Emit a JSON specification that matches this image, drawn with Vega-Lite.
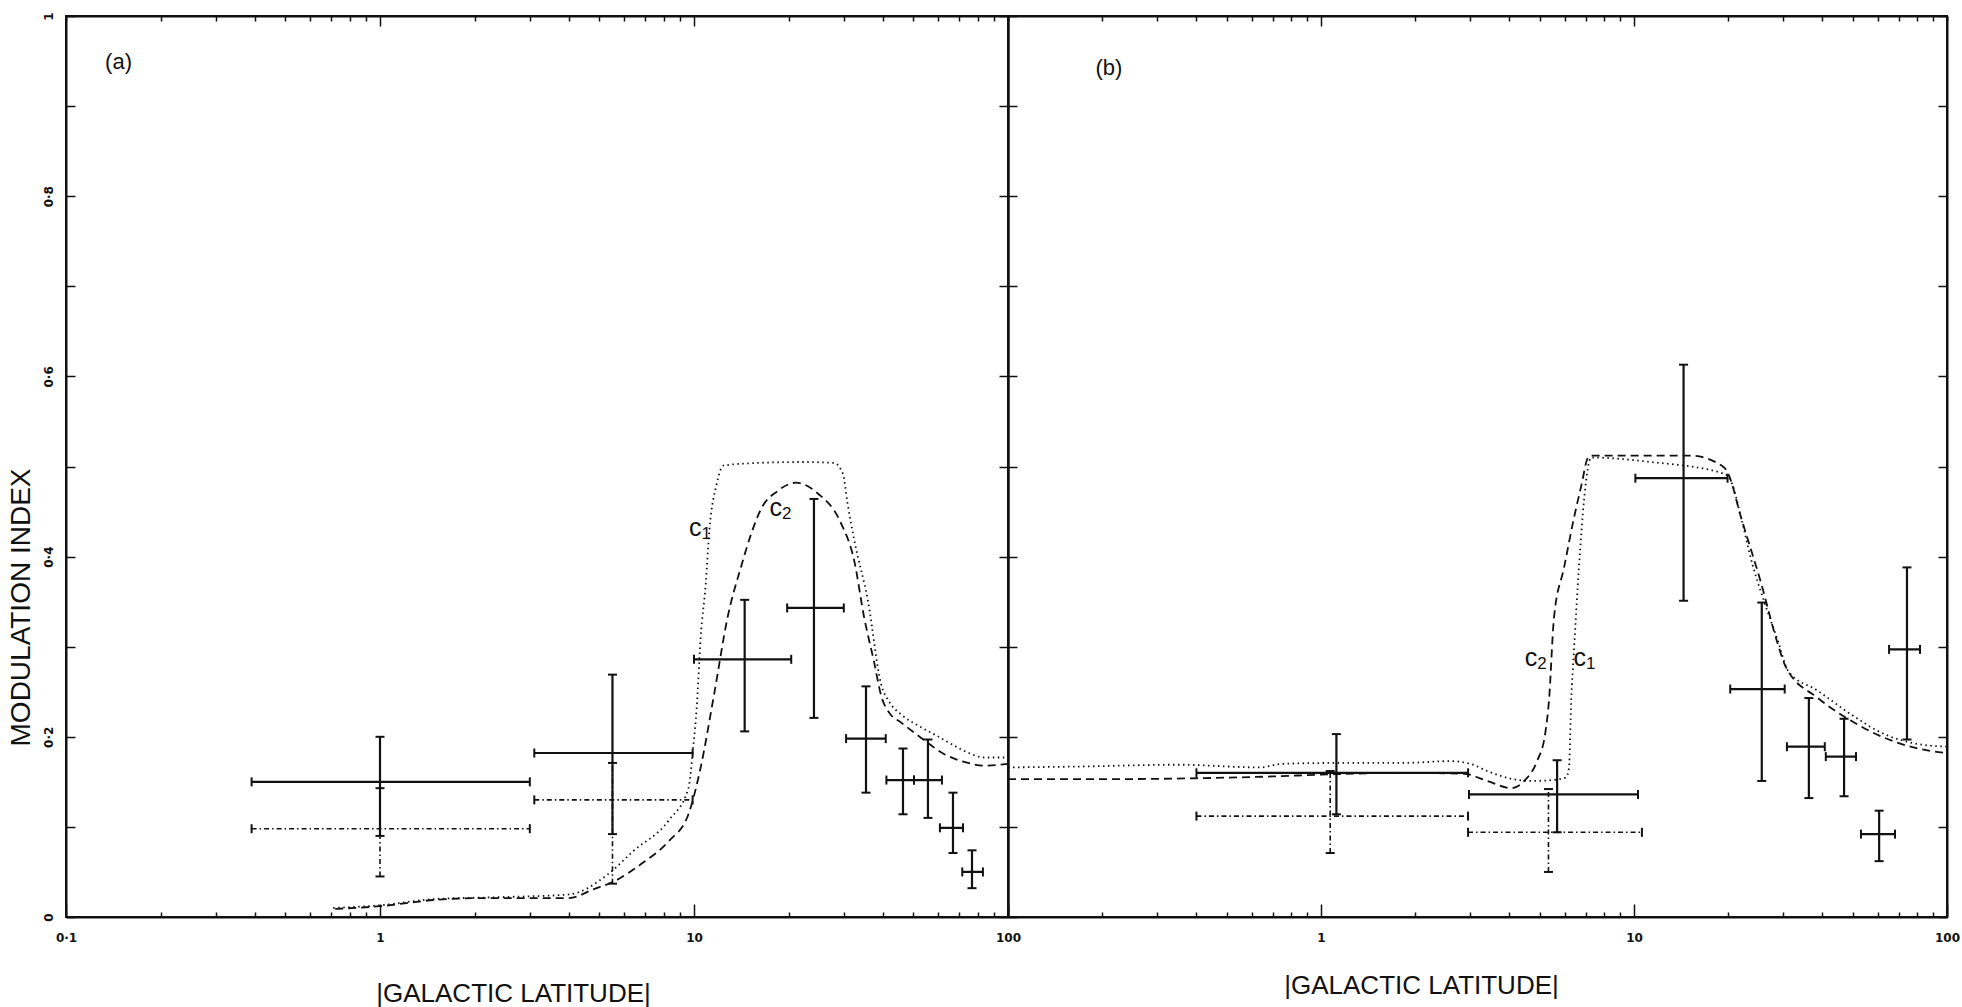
{
  "$schema": "https://vega.github.io/schema/vega-lite/v6.json",
  "background": "white",
  "padding": {"left": 6, "top": 10, "right": 0, "bottom": 0},
  "bounds": "flush",
  "spacing": 0,
  "config": {
    "view": {"stroke": "#111", "strokeWidth": 2},
    "axis": {
      "grid": false,
      "domainColor": "#111",
      "domainWidth": 2,
      "tickColor": "#111",
      "tickWidth": 1.5,
      "labelColor": "#111",
      "labelFont": "DejaVu Sans",
      "labelFontWeight": "bold",
      "labelFontSize": 12,
      "labelFlush": false,
      "labelOverlap": false,
      "titleColor": "#111",
      "titleFontWeight": "normal"
    }
  },
  "datasets": {
    "curves": [
      {"panel": "a", "curve": "C1", "lat": 0.71, "m": 0.010},
      {"panel": "a", "curve": "C1", "lat": 1.0, "m": 0.013},
      {"panel": "a", "curve": "C1", "lat": 1.5, "m": 0.020},
      {"panel": "a", "curve": "C1", "lat": 2.4, "m": 0.022},
      {"panel": "a", "curve": "C1", "lat": 4.0, "m": 0.025},
      {"panel": "a", "curve": "C1", "lat": 5.3, "m": 0.047},
      {"panel": "a", "curve": "C1", "lat": 6.4, "m": 0.073},
      {"panel": "a", "curve": "C1", "lat": 8.3, "m": 0.107},
      {"panel": "a", "curve": "C1", "lat": 9.6, "m": 0.143},
      {"panel": "a", "curve": "C1", "lat": 9.95, "m": 0.19},
      {"panel": "a", "curve": "C1", "lat": 10.2, "m": 0.232},
      {"panel": "a", "curve": "C1", "lat": 10.5, "m": 0.31},
      {"panel": "a", "curve": "C1", "lat": 10.9, "m": 0.37},
      {"panel": "a", "curve": "C1", "lat": 11.2, "m": 0.43},
      {"panel": "a", "curve": "C1", "lat": 11.8, "m": 0.48},
      {"panel": "a", "curve": "C1", "lat": 12.4, "m": 0.501},
      {"panel": "a", "curve": "C1", "lat": 16, "m": 0.504},
      {"panel": "a", "curve": "C1", "lat": 22, "m": 0.505},
      {"panel": "a", "curve": "C1", "lat": 27.9, "m": 0.504},
      {"panel": "a", "curve": "C1", "lat": 29.8, "m": 0.492},
      {"panel": "a", "curve": "C1", "lat": 30.8, "m": 0.46},
      {"panel": "a", "curve": "C1", "lat": 32.4, "m": 0.418},
      {"panel": "a", "curve": "C1", "lat": 35.8, "m": 0.351},
      {"panel": "a", "curve": "C1", "lat": 39.4, "m": 0.259},
      {"panel": "a", "curve": "C1", "lat": 42, "m": 0.238},
      {"panel": "a", "curve": "C1", "lat": 45.6, "m": 0.225},
      {"panel": "a", "curve": "C1", "lat": 52, "m": 0.212},
      {"panel": "a", "curve": "C1", "lat": 58, "m": 0.203},
      {"panel": "a", "curve": "C1", "lat": 66, "m": 0.192},
      {"panel": "a", "curve": "C1", "lat": 75, "m": 0.182},
      {"panel": "a", "curve": "C1", "lat": 84, "m": 0.177},
      {"panel": "a", "curve": "C1", "lat": 100, "m": 0.177},

      {"panel": "a", "curve": "C2", "lat": 0.72, "m": 0.009},
      {"panel": "a", "curve": "C2", "lat": 1.0, "m": 0.012},
      {"panel": "a", "curve": "C2", "lat": 1.5, "m": 0.019},
      {"panel": "a", "curve": "C2", "lat": 2.1, "m": 0.021},
      {"panel": "a", "curve": "C2", "lat": 4.0, "m": 0.021},
      {"panel": "a", "curve": "C2", "lat": 4.8, "m": 0.031},
      {"panel": "a", "curve": "C2", "lat": 5.6, "m": 0.040},
      {"panel": "a", "curve": "C2", "lat": 6.8, "m": 0.059},
      {"panel": "a", "curve": "C2", "lat": 8.3, "m": 0.084},
      {"panel": "a", "curve": "C2", "lat": 9.6, "m": 0.114},
      {"panel": "a", "curve": "C2", "lat": 10.5, "m": 0.166},
      {"panel": "a", "curve": "C2", "lat": 11.6, "m": 0.248},
      {"panel": "a", "curve": "C2", "lat": 12.8, "m": 0.333},
      {"panel": "a", "curve": "C2", "lat": 14.1, "m": 0.388},
      {"panel": "a", "curve": "C2", "lat": 15.2, "m": 0.425},
      {"panel": "a", "curve": "C2", "lat": 16.3, "m": 0.452},
      {"panel": "a", "curve": "C2", "lat": 18.5, "m": 0.473},
      {"panel": "a", "curve": "C2", "lat": 21.1, "m": 0.482},
      {"panel": "a", "curve": "C2", "lat": 24.8, "m": 0.470},
      {"panel": "a", "curve": "C2", "lat": 29.4, "m": 0.437},
      {"panel": "a", "curve": "C2", "lat": 32.4, "m": 0.395},
      {"panel": "a", "curve": "C2", "lat": 34.8, "m": 0.333},
      {"panel": "a", "curve": "C2", "lat": 37.4, "m": 0.284},
      {"panel": "a", "curve": "C2", "lat": 39.5, "m": 0.245},
      {"panel": "a", "curve": "C2", "lat": 42, "m": 0.226},
      {"panel": "a", "curve": "C2", "lat": 45.6, "m": 0.216},
      {"panel": "a", "curve": "C2", "lat": 52.8, "m": 0.199},
      {"panel": "a", "curve": "C2", "lat": 62.5, "m": 0.181},
      {"panel": "a", "curve": "C2", "lat": 74.6, "m": 0.171},
      {"panel": "a", "curve": "C2", "lat": 84, "m": 0.168},
      {"panel": "a", "curve": "C2", "lat": 100, "m": 0.170},

      {"panel": "b", "curve": "C1", "lat": 0.1, "m": 0.166},
      {"panel": "b", "curve": "C1", "lat": 0.17, "m": 0.167},
      {"panel": "b", "curve": "C1", "lat": 0.35, "m": 0.169},
      {"panel": "b", "curve": "C1", "lat": 0.64, "m": 0.166},
      {"panel": "b", "curve": "C1", "lat": 0.75, "m": 0.170},
      {"panel": "b", "curve": "C1", "lat": 1.13, "m": 0.171},
      {"panel": "b", "curve": "C1", "lat": 1.83, "m": 0.171},
      {"panel": "b", "curve": "C1", "lat": 2.6, "m": 0.173},
      {"panel": "b", "curve": "C1", "lat": 3.0, "m": 0.170},
      {"panel": "b", "curve": "C1", "lat": 3.4, "m": 0.162},
      {"panel": "b", "curve": "C1", "lat": 4.1, "m": 0.153},
      {"panel": "b", "curve": "C1", "lat": 4.7, "m": 0.151},
      {"panel": "b", "curve": "C1", "lat": 5.5, "m": 0.152},
      {"panel": "b", "curve": "C1", "lat": 6.07, "m": 0.155},
      {"panel": "b", "curve": "C1", "lat": 6.2, "m": 0.166},
      {"panel": "b", "curve": "C1", "lat": 6.3, "m": 0.24},
      {"panel": "b", "curve": "C1", "lat": 6.43, "m": 0.296},
      {"panel": "b", "curve": "C1", "lat": 6.67, "m": 0.388},
      {"panel": "b", "curve": "C1", "lat": 6.92, "m": 0.462},
      {"panel": "b", "curve": "C1", "lat": 7.3, "m": 0.510},
      {"panel": "b", "curve": "C1", "lat": 11.3, "m": 0.505},
      {"panel": "b", "curve": "C1", "lat": 19.4, "m": 0.492},
      {"panel": "b", "curve": "C1", "lat": 20.4, "m": 0.484},
      {"panel": "b", "curve": "C1", "lat": 22, "m": 0.443},
      {"panel": "b", "curve": "C1", "lat": 23.7, "m": 0.396},
      {"panel": "b", "curve": "C1", "lat": 26, "m": 0.351},
      {"panel": "b", "curve": "C1", "lat": 28.8, "m": 0.307},
      {"panel": "b", "curve": "C1", "lat": 31.1, "m": 0.273},
      {"panel": "b", "curve": "C1", "lat": 38.7, "m": 0.251},
      {"panel": "b", "curve": "C1", "lat": 49.3, "m": 0.225},
      {"panel": "b", "curve": "C1", "lat": 63, "m": 0.203},
      {"panel": "b", "curve": "C1", "lat": 80.8, "m": 0.192},
      {"panel": "b", "curve": "C1", "lat": 100, "m": 0.189},

      {"panel": "b", "curve": "C2", "lat": 0.1, "m": 0.153},
      {"panel": "b", "curve": "C2", "lat": 0.2, "m": 0.153},
      {"panel": "b", "curve": "C2", "lat": 0.4, "m": 0.154},
      {"panel": "b", "curve": "C2", "lat": 0.7, "m": 0.156},
      {"panel": "b", "curve": "C2", "lat": 1.0, "m": 0.158},
      {"panel": "b", "curve": "C2", "lat": 1.8, "m": 0.160},
      {"panel": "b", "curve": "C2", "lat": 2.86, "m": 0.159},
      {"panel": "b", "curve": "C2", "lat": 3.4, "m": 0.151},
      {"panel": "b", "curve": "C2", "lat": 4.05, "m": 0.143},
      {"panel": "b", "curve": "C2", "lat": 4.46, "m": 0.151},
      {"panel": "b", "curve": "C2", "lat": 4.9, "m": 0.173},
      {"panel": "b", "curve": "C2", "lat": 5.2, "m": 0.203},
      {"panel": "b", "curve": "C2", "lat": 5.35, "m": 0.24},
      {"panel": "b", "curve": "C2", "lat": 5.55, "m": 0.332},
      {"panel": "b", "curve": "C2", "lat": 5.98, "m": 0.388},
      {"panel": "b", "curve": "C2", "lat": 6.43, "m": 0.443},
      {"panel": "b", "curve": "C2", "lat": 6.8, "m": 0.48},
      {"panel": "b", "curve": "C2", "lat": 7.13, "m": 0.510},
      {"panel": "b", "curve": "C2", "lat": 7.3, "m": 0.512},
      {"panel": "b", "curve": "C2", "lat": 15.2, "m": 0.512},
      {"panel": "b", "curve": "C2", "lat": 19.4, "m": 0.499},
      {"panel": "b", "curve": "C2", "lat": 20.0, "m": 0.492},
      {"panel": "b", "curve": "C2", "lat": 22, "m": 0.443},
      {"panel": "b", "curve": "C2", "lat": 25.5, "m": 0.37},
      {"panel": "b", "curve": "C2", "lat": 28.8, "m": 0.303},
      {"panel": "b", "curve": "C2", "lat": 30.6, "m": 0.277},
      {"panel": "b", "curve": "C2", "lat": 38.7, "m": 0.243},
      {"panel": "b", "curve": "C2", "lat": 49.3, "m": 0.218},
      {"panel": "b", "curve": "C2", "lat": 63, "m": 0.199},
      {"panel": "b", "curve": "C2", "lat": 80.8, "m": 0.187},
      {"panel": "b", "curve": "C2", "lat": 100, "m": 0.182}
    ],
    "bins": [
      {"panel": "a", "series": "solid", "lat": 1.0, "xlo": 0.39, "xhi": 3.0, "m": 0.150, "ylo": 0.090, "yhi": 0.200},
      {"panel": "a", "series": "solid", "lat": 5.5, "xlo": 3.1, "xhi": 9.9, "m": 0.182, "ylo": 0.092, "yhi": 0.269},
      {"panel": "a", "series": "solid", "lat": 14.5, "xlo": 10.0, "xhi": 20.4, "m": 0.286, "ylo": 0.206, "yhi": 0.352},
      {"panel": "a", "series": "solid", "lat": 24.1, "xlo": 19.8, "xhi": 30.0, "m": 0.343, "ylo": 0.221, "yhi": 0.464},
      {"panel": "a", "series": "solid", "lat": 35.3, "xlo": 30.5, "xhi": 40.8, "m": 0.198, "ylo": 0.138, "yhi": 0.256},
      {"panel": "a", "series": "solid", "lat": 46.3, "xlo": 41.0, "xhi": 50.2, "m": 0.152, "ylo": 0.114, "yhi": 0.187},
      {"panel": "a", "series": "solid", "lat": 55.6, "xlo": 50.2, "xhi": 61.6, "m": 0.152, "ylo": 0.110, "yhi": 0.197},
      {"panel": "a", "series": "solid", "lat": 66.8, "xlo": 60.7, "xhi": 71.9, "m": 0.099, "ylo": 0.071, "yhi": 0.138},
      {"panel": "a", "series": "solid", "lat": 76.8, "xlo": 71.5, "xhi": 83.2, "m": 0.050, "ylo": 0.032, "yhi": 0.074},
      {"panel": "a", "series": "dotted", "lat": 1.0, "xlo": 0.39, "xhi": 3.0, "m": 0.098, "ylo": 0.045, "yhi": 0.143},
      {"panel": "a", "series": "dotted", "lat": 5.5, "xlo": 3.1, "xhi": 9.9, "m": 0.130, "ylo": 0.037, "yhi": 0.171},
      {"panel": "b", "series": "solid", "lat": 1.12, "xlo": 0.40, "xhi": 2.95, "m": 0.160, "ylo": 0.114, "yhi": 0.203},
      {"panel": "b", "series": "solid", "lat": 5.68, "xlo": 2.97, "xhi": 10.3, "m": 0.136, "ylo": 0.094, "yhi": 0.174},
      {"panel": "b", "series": "solid", "lat": 14.4, "xlo": 10.1, "xhi": 19.9, "m": 0.487, "ylo": 0.351, "yhi": 0.613},
      {"panel": "b", "series": "solid", "lat": 25.6, "xlo": 20.3, "xhi": 30.3, "m": 0.253, "ylo": 0.151, "yhi": 0.349},
      {"panel": "b", "series": "solid", "lat": 36.2, "xlo": 30.8, "xhi": 40.7, "m": 0.189, "ylo": 0.132, "yhi": 0.243},
      {"panel": "b", "series": "solid", "lat": 46.9, "xlo": 41.0, "xhi": 51.2, "m": 0.178, "ylo": 0.134, "yhi": 0.220},
      {"panel": "b", "series": "solid", "lat": 60.7, "xlo": 53.1, "xhi": 68.2, "m": 0.092, "ylo": 0.062, "yhi": 0.118},
      {"panel": "b", "series": "solid", "lat": 74.5, "xlo": 65.3, "xhi": 82.0, "m": 0.297, "ylo": 0.197, "yhi": 0.388},
      {"panel": "b", "series": "dotted", "lat": 1.07, "xlo": 0.40, "xhi": 2.95, "m": 0.112, "ylo": 0.071, "yhi": 0.162},
      {"panel": "b", "series": "dotted", "lat": 5.33, "xlo": 2.95, "xhi": 10.6, "m": 0.094, "ylo": 0.050, "yhi": 0.142}
    ],
    "curveNames": [
      {"panel": "a", "lat": 10.1, "m": 0.432, "main": "c", "sub": "1"},
      {"panel": "a", "lat": 18.2, "m": 0.454, "main": "c", "sub": "2"},
      {"panel": "b", "lat": 4.69, "m": 0.287, "main": "c", "sub": "2"},
      {"panel": "b", "lat": 6.71, "m": 0.287, "main": "c", "sub": "1"}
    ],
    "panelTags": [
      {"panel": "a", "lat": 0.147, "m": 0.949, "tag": "(a)"},
      {"panel": "b", "lat": 0.21, "m": 0.942, "tag": "(b)"}
    ]
  },
  "hconcat": [
    {
      "width": 942,
      "height": 901,
      "layer": [
        {
          "data": {"name": "curves"},
          "transform": [{"filter": "datum.panel == 'a'"}],
          "mark": {"type": "line", "color": "#111", "strokeWidth": 1.8, "interpolate": "monotone"},
          "encoding": {
            "x": {
              "field": "lat", "type": "quantitative",
              "scale": {"type": "log", "domain": [0.1, 100]},
              "axis": {
                "orient": "bottom",
                "values": [0.1, 0.2, 0.3, 0.4, 0.5, 0.6, 0.7, 0.8, 0.9, 1, 2, 3, 4, 5, 6, 7, 8, 9, 10, 20, 30, 40, 50, 60, 70, 80, 90, 100],
                "labelExpr": "datum.value == 0.1 ? '0·1' : (datum.value == 1 || datum.value == 10 || datum.value == 100) ? format(datum.value, 'd') : ''",
                "tickSize": {"condition": {"test": "datum.value == 0.1 || datum.value == 1 || datum.value == 10 || datum.value == 100", "value": -13}, "value": -5},
                "labelPadding": 28,
                "title": "|GALACTIC LATITUDE|",
                "titleFont": "Liberation Sans",
                "titleFontSize": 26,
                "titleAlign": "center",
                "titleBaseline": "middle",
                "titleX": 447,
                "titleY": 76
              }
            },
            "y": {
              "field": "m", "type": "quantitative",
              "scale": {"domain": [0, 1]},
              "axis": {
                "orient": "left",
                "values": [0, 0.1, 0.2, 0.3, 0.4, 0.5, 0.6, 0.7, 0.8, 0.9, 1],
                "labelExpr": "datum.value == 0 ? '0' : datum.value == 1 ? '1' : (round(datum.value * 10) % 2 == 0 ? '0·' + round(datum.value * 10) : '')",
                "labelAngle": 270,
                "labelAlign": "center",
                "labelBaseline": "bottom",
                "tickSize": -9,
                "labelPadding": 20,
                "title": "MODULATION INDEX",
                "titleFont": "Liberation Sans",
                "titleFontSize": 28,
                "titleAngle": 270,
                "titleAlign": "center",
                "titleBaseline": "middle",
                "titleX": -45,
                "titleY": 591
              }
            },
            "strokeDash": {
              "field": "curve", "type": "nominal",
              "scale": {"domain": ["C1", "C2", "solid", "dotted"], "range": [[1.5, 3.5], [8, 5], [1, 0], [5, 3, 1.5, 3]]},
              "legend": null
            }
          }
        },
        {
          "data": {"name": "bins"},
          "transform": [{"filter": "datum.panel == 'a'"}],
          "mark": {"type": "rule", "color": "#111"},
          "encoding": {
            "x": {
              "field": "xlo", "type": "quantitative",
              "scale": {"type": "log", "domain": [0.1, 100]},
              "axis": {
                "orient": "top",
                "values": [0.1, 0.2, 0.3, 0.4, 0.5, 0.6, 0.7, 0.8, 0.9, 1, 2, 3, 4, 5, 6, 7, 8, 9, 10, 20, 30, 40, 50, 60, 70, 80, 90, 100],
                "labels": false,
                "tickSize": {"condition": {"test": "datum.value == 1 || datum.value == 10", "value": -10}, "value": -5},
                "title": null
              }
            },
            "x2": {"field": "xhi"},
            "y": {
              "field": "m", "type": "quantitative",
              "axis": {"orient": "right", "values": [0, 0.1, 0.2, 0.3, 0.4, 0.5, 0.6, 0.7, 0.8, 0.9, 1], "labels": false, "tickSize": -9, "title": null}
            },
            "strokeDash": {
              "field": "series", "type": "nominal",
              "scale": {"domain": ["C1", "C2", "solid", "dotted"], "range": [[1.5, 3.5], [8, 5], [1, 0], [5, 3, 1.5, 3]]},
              "legend": null
            },
            "strokeWidth": {"condition": {"test": "datum.series == 'dotted'", "value": 1.6}, "value": 2.2}
          }
        },
        {
          "data": {"name": "bins"},
          "transform": [{"filter": "datum.panel == 'a'"}],
          "mark": {"type": "rule", "color": "#111"},
          "encoding": {
            "x": {"field": "lat", "type": "quantitative", "axis": null},
            "y": {"field": "ylo", "type": "quantitative", "axis": null},
            "y2": {"field": "yhi"},
            "strokeDash": {
              "field": "series", "type": "nominal",
              "scale": {"domain": ["C1", "C2", "solid", "dotted"], "range": [[1.5, 3.5], [8, 5], [1, 0], [5, 3, 1.5, 3]]},
              "legend": null
            },
            "strokeWidth": {"condition": {"test": "datum.series == 'dotted'", "value": 1.6}, "value": 2.2}
          }
        },
        {
          "data": {"name": "bins"},
          "transform": [{"filter": "datum.panel == 'a'"}],
          "mark": {"type": "tick", "orient": "vertical", "size": 9, "thickness": 2, "color": "#111", "opacity": 1},
          "encoding": {"x": {"field": "xlo", "type": "quantitative", "axis": null}, "y": {"field": "m", "type": "quantitative", "axis": null}}
        },
        {
          "data": {"name": "bins"},
          "transform": [{"filter": "datum.panel == 'a'"}],
          "mark": {"type": "tick", "orient": "vertical", "size": 9, "thickness": 2, "color": "#111", "opacity": 1},
          "encoding": {"x": {"field": "xhi", "type": "quantitative", "axis": null}, "y": {"field": "m", "type": "quantitative", "axis": null}}
        },
        {
          "data": {"name": "bins"},
          "transform": [{"filter": "datum.panel == 'a'"}],
          "mark": {"type": "tick", "orient": "horizontal", "size": 9, "thickness": 2, "color": "#111", "opacity": 1},
          "encoding": {"x": {"field": "lat", "type": "quantitative", "axis": null}, "y": {"field": "ylo", "type": "quantitative", "axis": null}}
        },
        {
          "data": {"name": "bins"},
          "transform": [{"filter": "datum.panel == 'a'"}],
          "mark": {"type": "tick", "orient": "horizontal", "size": 9, "thickness": 2, "color": "#111", "opacity": 1},
          "encoding": {"x": {"field": "lat", "type": "quantitative", "axis": null}, "y": {"field": "yhi", "type": "quantitative", "axis": null}}
        },
        {
          "data": {"name": "curveNames"},
          "transform": [{"filter": "datum.panel == 'a'"}],
          "mark": {"type": "text", "font": "Liberation Sans", "fontSize": 25, "color": "#111", "align": "center", "baseline": "middle"},
          "encoding": {"x": {"field": "lat", "type": "quantitative", "axis": null}, "y": {"field": "m", "type": "quantitative", "axis": null}, "text": {"field": "main"}}
        },
        {
          "data": {"name": "curveNames"},
          "transform": [{"filter": "datum.panel == 'a'"}],
          "mark": {"type": "text", "font": "Liberation Sans", "fontSize": 17, "color": "#111", "align": "center", "baseline": "middle", "dx": 11, "dy": 6},
          "encoding": {"x": {"field": "lat", "type": "quantitative", "axis": null}, "y": {"field": "m", "type": "quantitative", "axis": null}, "text": {"field": "sub"}}
        },
        {
          "data": {"name": "panelTags"},
          "transform": [{"filter": "datum.panel == 'a'"}],
          "mark": {"type": "text", "font": "Liberation Sans", "fontSize": 22, "color": "#111", "align": "center", "baseline": "middle"},
          "encoding": {"x": {"field": "lat", "type": "quantitative", "axis": null}, "y": {"field": "m", "type": "quantitative", "axis": null}, "text": {"field": "tag"}}
        }
      ],
      "resolve": {"axis": {"x": "independent", "y": "independent"}}
    },
    {
      "width": 939,
      "height": 901,
      "layer": [
        {
          "data": {"name": "curves"},
          "transform": [{"filter": "datum.panel == 'b'"}],
          "mark": {"type": "line", "color": "#111", "strokeWidth": 1.8, "interpolate": "monotone"},
          "encoding": {
            "x": {
              "field": "lat", "type": "quantitative",
              "scale": {"type": "log", "domain": [0.1, 100]},
              "axis": {
                "orient": "bottom",
                "values": [0.1, 0.2, 0.3, 0.4, 0.5, 0.6, 0.7, 0.8, 0.9, 1, 2, 3, 4, 5, 6, 7, 8, 9, 10, 20, 30, 40, 50, 60, 70, 80, 90, 100],
                "labelExpr": "(datum.value == 1 || datum.value == 10 || datum.value == 100) ? format(datum.value, 'd') : ''",
                "tickSize": {"condition": {"test": "datum.value == 0.1 || datum.value == 1 || datum.value == 10 || datum.value == 100", "value": -13}, "value": -5},
                "labelPadding": 28,
                "title": "|GALACTIC LATITUDE|",
                "titleFont": "Liberation Sans",
                "titleFontSize": 26,
                "titleAlign": "center",
                "titleBaseline": "middle",
                "titleX": 413,
                "titleY": 68
              }
            },
            "y": {
              "field": "m", "type": "quantitative",
              "scale": {"domain": [0, 1]},
              "axis": {"orient": "left", "values": [0, 0.1, 0.2, 0.3, 0.4, 0.5, 0.6, 0.7, 0.8, 0.9, 1], "labels": false, "tickSize": -9, "title": null}
            },
            "strokeDash": {
              "field": "curve", "type": "nominal",
              "scale": {"domain": ["C1", "C2", "solid", "dotted"], "range": [[1.5, 3.5], [8, 5], [1, 0], [5, 3, 1.5, 3]]},
              "legend": null
            }
          }
        },
        {
          "data": {"name": "bins"},
          "transform": [{"filter": "datum.panel == 'b'"}],
          "mark": {"type": "rule", "color": "#111"},
          "encoding": {
            "x": {
              "field": "xlo", "type": "quantitative",
              "scale": {"type": "log", "domain": [0.1, 100]},
              "axis": {
                "orient": "top",
                "values": [0.1, 0.2, 0.3, 0.4, 0.5, 0.6, 0.7, 0.8, 0.9, 1, 2, 3, 4, 5, 6, 7, 8, 9, 10, 20, 30, 40, 50, 60, 70, 80, 90, 100],
                "labels": false,
                "tickSize": {"condition": {"test": "datum.value == 1 || datum.value == 10", "value": -10}, "value": -5},
                "title": null
              }
            },
            "x2": {"field": "xhi"},
            "y": {
              "field": "m", "type": "quantitative",
              "axis": {"orient": "right", "values": [0, 0.1, 0.2, 0.3, 0.4, 0.5, 0.6, 0.7, 0.8, 0.9, 1], "labels": false, "tickSize": -9, "title": null}
            },
            "strokeDash": {
              "field": "series", "type": "nominal",
              "scale": {"domain": ["C1", "C2", "solid", "dotted"], "range": [[1.5, 3.5], [8, 5], [1, 0], [5, 3, 1.5, 3]]},
              "legend": null
            },
            "strokeWidth": {"condition": {"test": "datum.series == 'dotted'", "value": 1.6}, "value": 2.2}
          }
        },
        {
          "data": {"name": "bins"},
          "transform": [{"filter": "datum.panel == 'b'"}],
          "mark": {"type": "rule", "color": "#111"},
          "encoding": {
            "x": {"field": "lat", "type": "quantitative", "axis": null},
            "y": {"field": "ylo", "type": "quantitative", "axis": null},
            "y2": {"field": "yhi"},
            "strokeDash": {
              "field": "series", "type": "nominal",
              "scale": {"domain": ["C1", "C2", "solid", "dotted"], "range": [[1.5, 3.5], [8, 5], [1, 0], [5, 3, 1.5, 3]]},
              "legend": null
            },
            "strokeWidth": {"condition": {"test": "datum.series == 'dotted'", "value": 1.6}, "value": 2.2}
          }
        },
        {
          "data": {"name": "bins"},
          "transform": [{"filter": "datum.panel == 'b'"}],
          "mark": {"type": "tick", "orient": "vertical", "size": 9, "thickness": 2, "color": "#111", "opacity": 1},
          "encoding": {"x": {"field": "xlo", "type": "quantitative", "axis": null}, "y": {"field": "m", "type": "quantitative", "axis": null}}
        },
        {
          "data": {"name": "bins"},
          "transform": [{"filter": "datum.panel == 'b'"}],
          "mark": {"type": "tick", "orient": "vertical", "size": 9, "thickness": 2, "color": "#111", "opacity": 1},
          "encoding": {"x": {"field": "xhi", "type": "quantitative", "axis": null}, "y": {"field": "m", "type": "quantitative", "axis": null}}
        },
        {
          "data": {"name": "bins"},
          "transform": [{"filter": "datum.panel == 'b'"}],
          "mark": {"type": "tick", "orient": "horizontal", "size": 9, "thickness": 2, "color": "#111", "opacity": 1},
          "encoding": {"x": {"field": "lat", "type": "quantitative", "axis": null}, "y": {"field": "ylo", "type": "quantitative", "axis": null}}
        },
        {
          "data": {"name": "bins"},
          "transform": [{"filter": "datum.panel == 'b'"}],
          "mark": {"type": "tick", "orient": "horizontal", "size": 9, "thickness": 2, "color": "#111", "opacity": 1},
          "encoding": {"x": {"field": "lat", "type": "quantitative", "axis": null}, "y": {"field": "yhi", "type": "quantitative", "axis": null}}
        },
        {
          "data": {"name": "curveNames"},
          "transform": [{"filter": "datum.panel == 'b'"}],
          "mark": {"type": "text", "font": "Liberation Sans", "fontSize": 25, "color": "#111", "align": "center", "baseline": "middle"},
          "encoding": {"x": {"field": "lat", "type": "quantitative", "axis": null}, "y": {"field": "m", "type": "quantitative", "axis": null}, "text": {"field": "main"}}
        },
        {
          "data": {"name": "curveNames"},
          "transform": [{"filter": "datum.panel == 'b'"}],
          "mark": {"type": "text", "font": "Liberation Sans", "fontSize": 17, "color": "#111", "align": "center", "baseline": "middle", "dx": 11, "dy": 6},
          "encoding": {"x": {"field": "lat", "type": "quantitative", "axis": null}, "y": {"field": "m", "type": "quantitative", "axis": null}, "text": {"field": "sub"}}
        },
        {
          "data": {"name": "panelTags"},
          "transform": [{"filter": "datum.panel == 'b'"}],
          "mark": {"type": "text", "font": "Liberation Sans", "fontSize": 22, "color": "#111", "align": "center", "baseline": "middle"},
          "encoding": {"x": {"field": "lat", "type": "quantitative", "axis": null}, "y": {"field": "m", "type": "quantitative", "axis": null}, "text": {"field": "tag"}}
        }
      ],
      "resolve": {"axis": {"x": "independent", "y": "independent"}}
    }
  ]
}
